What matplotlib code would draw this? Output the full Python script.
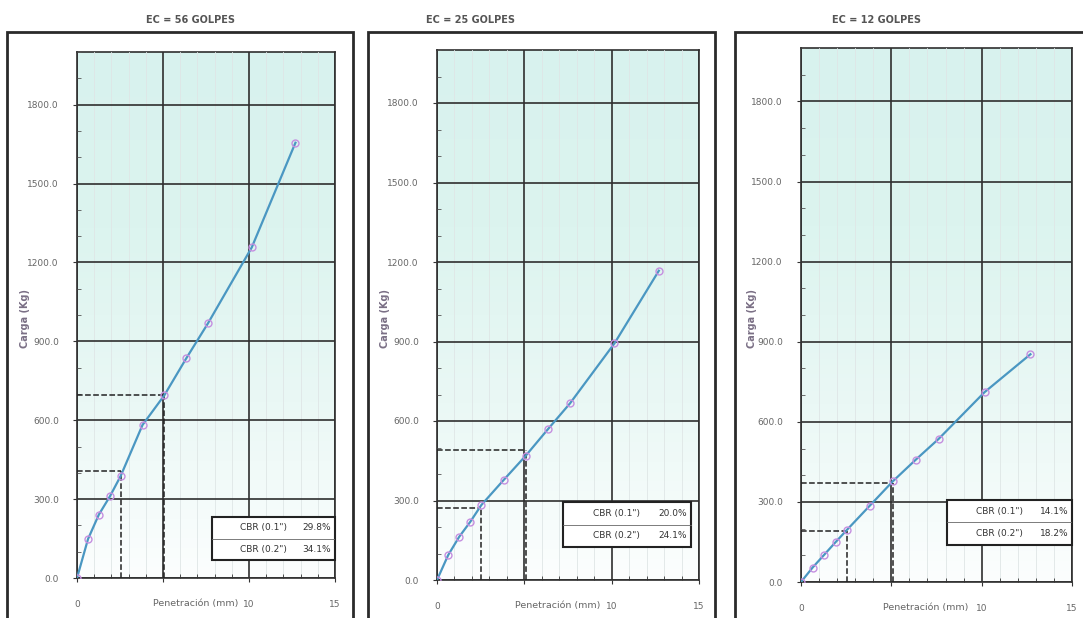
import matplotlib.pyplot as plt
import numpy as np
from matplotlib.patches import Rectangle
from matplotlib.ticker import MultipleLocator

# Penetracion estandar (mm) y carga (kg) para cada energia de compactacion
penetracion = [0, 0.64, 1.27, 1.91, 2.54, 3.81, 5.08, 6.35, 7.62, 10.16, 12.70]
carga_56 = [0, 148, 241, 310, 388, 582, 695, 835, 969, 1257, 1655]
carga_25 = [0, 94, 163, 220, 283, 377, 469, 569, 667, 893, 1167]
carga_12 = [0, 54, 101, 149, 195, 286, 377, 458, 536, 711, 853]

titulos = ['EC = 56 GOLPES', 'EC = 25 GOLPES', 'EC = 12 GOLPES']
cbr_01 = [29.8, 20.0, 14.1]
cbr_02 = [34.1, 24.1, 18.2]
# carga patron (kg) a 0.1" y 0.2"
patron_01 = 1360
patron_02 = 2040
pen_01 = 2.54
pen_02 = 5.08

W, H = 1083, 618
fig = plt.figure(figsize=(W / 100, H / 100), dpi=100)
fig.patch.set_facecolor('white')

# (left, right, top, bottom) of each plot area in pixels
areas = [(77, 335, 52, 578), (437, 699, 50, 580), (801, 1072, 48, 582)]
frames = [(7, 353), (368, 715), (735, 1090)]
boxes = [(0.523, 0.034, 0.477, 0.082), (0.48, 0.062, 0.49, 0.085), (0.54, 0.069, 0.46, 0.085)]
title_x = [190, 470, 877]
ylab_x = [25, 385, 752]

grad = np.linspace(0, 1, 256).reshape(-1, 1)
cmap = plt.matplotlib.colors.LinearSegmentedColormap.from_list(
    'bg', ['#fcfefe', '#eaf8f5', '#dcf4ef', '#d8f2ee'])

for i, carga in enumerate([carga_56, carga_25, carga_12]):
    l, r, t, b = areas[i]
    ax = fig.add_axes([l / W, 1 - b / H, (r - l) / W, (b - t) / H])

    # outer frame of the panel
    fl, fr = frames[i]
    fig.patches.append(Rectangle((fl / W, -0.05), (fr - fl) / W, 1.05 - 32 / H,
                                 transform=fig.transFigure, fill=False,
                                 edgecolor='#2a2a2a', linewidth=2.0))
    fig.text(title_x[i] / W, 1 - 20 / H, titulos[i], ha='center', va='center',
             fontsize=7, fontweight='bold', color='#555555')

    ax.imshow(grad, extent=[0, 15, 0, 2000], origin='lower', aspect='auto',
              cmap=cmap, zorder=0)
    ax.set_xlim(0, 15)
    ax.set_ylim(0, 2000)

    ax.xaxis.set_major_locator(MultipleLocator(5))
    ax.xaxis.set_minor_locator(MultipleLocator(1))
    ax.yaxis.set_major_locator(MultipleLocator(300))
    ax.yaxis.set_minor_locator(MultipleLocator(100))
    ax.grid(which='major', color='#2f2f2f', linewidth=1.2, zorder=1)
    ax.grid(which='minor', axis='x', color='#dfe6e6', linewidth=0.6, zorder=0.5)
    ax.set_axisbelow(False)

    ax.set_yticklabels(['%.1f' % v for v in ax.get_yticks()])
    ax.set_xticks([0, 5, 10, 15])
    ax.set_xticklabels(['0', '', '10', '15'])
    ax.tick_params(axis='both', which='major', labelsize=6.5, labelcolor='#666666',
                   color='#333333', length=3, pad=10)
    ax.tick_params(axis='x', which='major', pad=13)
    ax.tick_params(axis='x', which='minor', direction='in', length=3, color='#333333')
    ax.tick_params(axis='y', which='minor', direction='in', length=3, color='#555555')
    for s in ax.spines.values():
        s.set_color('#2f2f2f')
        s.set_linewidth(1.2)

    ax.set_xlabel('Penetración (mm)', fontsize=6.8, color='#666666')
    ax.xaxis.set_label_coords(0.46, -0.048)
    ax.xaxis.label.set_va('center')
    fig.text(ylab_x[i] / W, 1 - 318 / H, 'Carga (Kg)', rotation=90, ha='center',
             va='center', fontsize=7, fontweight='bold', color='#7a6f85')

    # CBR reference lines
    y1 = cbr_01[i] / 100 * patron_01
    y2 = cbr_02[i] / 100 * patron_02
    for px, py in [(pen_01, y1), (pen_02, y2)]:
        ax.plot([0, px], [py, py], color='#222222', linestyle='--', linewidth=1.1, zorder=3)
        ax.plot([px, px], [0, py], color='#222222', linestyle='--', linewidth=1.1, zorder=3)

    ax.plot(penetracion, carga, color='#4a97c2', linewidth=1.6, zorder=4)
    ax.plot(penetracion, carga, linestyle='none', marker='o', markersize=5,
            markerfacecolor='none', markeredgecolor='#c58fe0', markeredgewidth=1.0, zorder=5)

    bx, by, bw, bh = boxes[i]
    ax.add_patch(Rectangle((bx, by), bw, bh, transform=ax.transAxes, facecolor='white',
                           edgecolor='#222222', linewidth=1.5, zorder=6, clip_on=False))
    ax.plot([bx, bx + bw], [by + bh / 2, by + bh / 2], transform=ax.transAxes,
            color='#666666', linewidth=0.6, zorder=7)
    for k, (lab, val) in enumerate([('CBR (0.1")', cbr_01[i]), ('CBR (0.2")', cbr_02[i])]):
        yy = by + bh * (0.75 - 0.5 * k)
        ax.text(bx + bw * 0.42, yy, lab, transform=ax.transAxes, ha='center', va='center',
                fontsize=6.5, color='#333333', zorder=8)
        ax.text(bx + bw * 0.97, yy, '%.1f%%' % val, transform=ax.transAxes, ha='right',
                va='center', fontsize=6.5, color='#333333', zorder=8)

fig.savefig('out.png', dpi=100)
